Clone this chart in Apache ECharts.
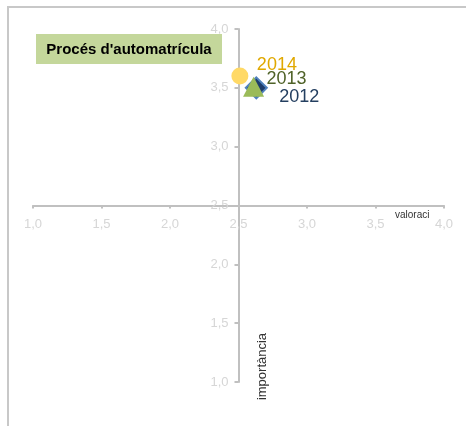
<!DOCTYPE html>
<html>
<head>
<meta charset="utf-8">
<script src="https://cdn.jsdelivr.net/npm/echarts@6/dist/echarts.min.js"></script>
<style>
html,body{margin:0;padding:0;background:#fff;}
#c{width:466px;height:426px;}
</style>
</head>
<body>
<div id="c"></div>
<script>
// ---- data ----
const years = ['2012', '2013', '2014'];
const valoracio = [2.63, 2.61, 2.51];
const importancia = [3.50, 3.51, 3.60];
const xTicks = [1.0, 1.5, 2.0, 2.5, 3.0, 3.5, 4.0];
const yTicks = [1.0, 1.5, 2.0, 2.5, 3.0, 3.5, 4.0];
const chartTitle = "Procés d'automatrícula";
const xName = 'valoraci';
const yName = 'importància';

// ---- styles ----
const styles = [
  { symbol: 'diamond', size: 21, color: '#1f3d6b', border: '#4f81bd', bw: 2, label: '#243f60', offset: [11.5, 9] },
  { symbol: 'triangle', size: [21, 20], color: '#9bbb59', border: '#9bbb59', bw: 0, label: '#4f6228', offset: [2.5, -8] },
  { symbol: 'circle', size: 17, color: '#ffd966', border: '#ffd966', bw: 0, label: '#e0a800', offset: [8.5, -11.5] }
];

const chart = echarts.init(document.getElementById('c'), null, { renderer: 'canvas' });
const fmt = v => v.toFixed(1).replace('.', ',');
const axisColor = '#c0c0c0';
const labelColor = '#d6d6d6';

const series = years.map((y, i) => ({
  name: y,
  type: 'scatter',
  data: [[valoracio[i], importancia[i]]],
  symbol: styles[i].symbol,
  symbolSize: styles[i].size,
  itemStyle: { color: styles[i].color, borderColor: styles[i].border, borderWidth: styles[i].bw, opacity: 1 },
  label: {
    show: true,
    position: 'right',
    distance: 0,
    offset: styles[i].offset,
    formatter: () => y,
    color: styles[i].label,
    fontSize: 18,
    fontFamily: 'Liberation Sans, Arial, sans-serif'
  },
  emphasis: { disabled: true },
  z: 3 + i
}));

chart.setOption({
  animation: false,
  backgroundColor: '#fff',
  grid: { left: 33, right: 22, top: 29, bottom: 44, containLabel: false, outerBoundsMode: 'none' },
  xAxis: {
    type: 'value', min: xTicks[0], max: xTicks[xTicks.length - 1], interval: 0.5,
    position: 'bottom', offset: -176.5,
    axisLine: { show: true, onZero: false, lineStyle: { color: axisColor, width: 2 } },
    axisTick: { show: true, length: 3, lineStyle: { color: axisColor, width: 2 } },
    axisLabel: { color: labelColor, fontSize: 13, margin: 12, formatter: fmt, showMinLabel: true, showMaxLabel: true, fontFamily: 'Liberation Sans, Arial, sans-serif' },
    splitLine: { show: false }
  },
  yAxis: {
    type: 'value', min: yTicks[0], max: yTicks[yTicks.length - 1], interval: 0.5,
    position: 'left', offset: -205.5,
    axisLine: { show: true, onZero: false, lineStyle: { color: axisColor, width: 2 } },
    axisTick: { show: true, length: 4, lineStyle: { color: axisColor, width: 2 } },
    axisLabel: { color: labelColor, fontSize: 13, margin: 10, formatter: fmt, showMinLabel: true, showMaxLabel: true, fontFamily: 'Liberation Sans, Arial, sans-serif' },
    splitLine: { show: false }
  },
  graphic: [
    { type: 'rect', shape: { x: 8, y: 7, width: 480, height: 440 }, style: { fill: 'none', stroke: '#c8c8c8', lineWidth: 2 }, silent: true, z: 0 },
    { type: 'rect', shape: { x: 36, y: 34, width: 186, height: 30 }, style: { fill: '#c4d79b' }, silent: true, z: 10 },
    { type: 'text', x: 129, y: 49.5, style: { text: chartTitle, fill: '#000', font: 'bold 15px "Liberation Sans", Arial, sans-serif', textAlign: 'center', textVerticalAlign: 'middle', align: 'center', verticalAlign: 'middle' }, silent: true, z: 11 },
    { type: 'text', x: 395, y: 215, style: { text: xName, fill: '#333', font: '10px "Liberation Sans", Arial, sans-serif', textAlign: 'left', textVerticalAlign: 'middle', align: 'left', verticalAlign: 'middle' }, silent: true, z: 11 },
    { type: 'text', x: 262, y: 366.5, rotation: Math.PI / 2, style: { text: yName, fill: '#333', font: '13px "Liberation Sans", Arial, sans-serif', textAlign: 'center', textVerticalAlign: 'middle', align: 'center', verticalAlign: 'middle' }, silent: true, z: 11 }
  ],
  series: series
});
</script>
</body>
</html>
